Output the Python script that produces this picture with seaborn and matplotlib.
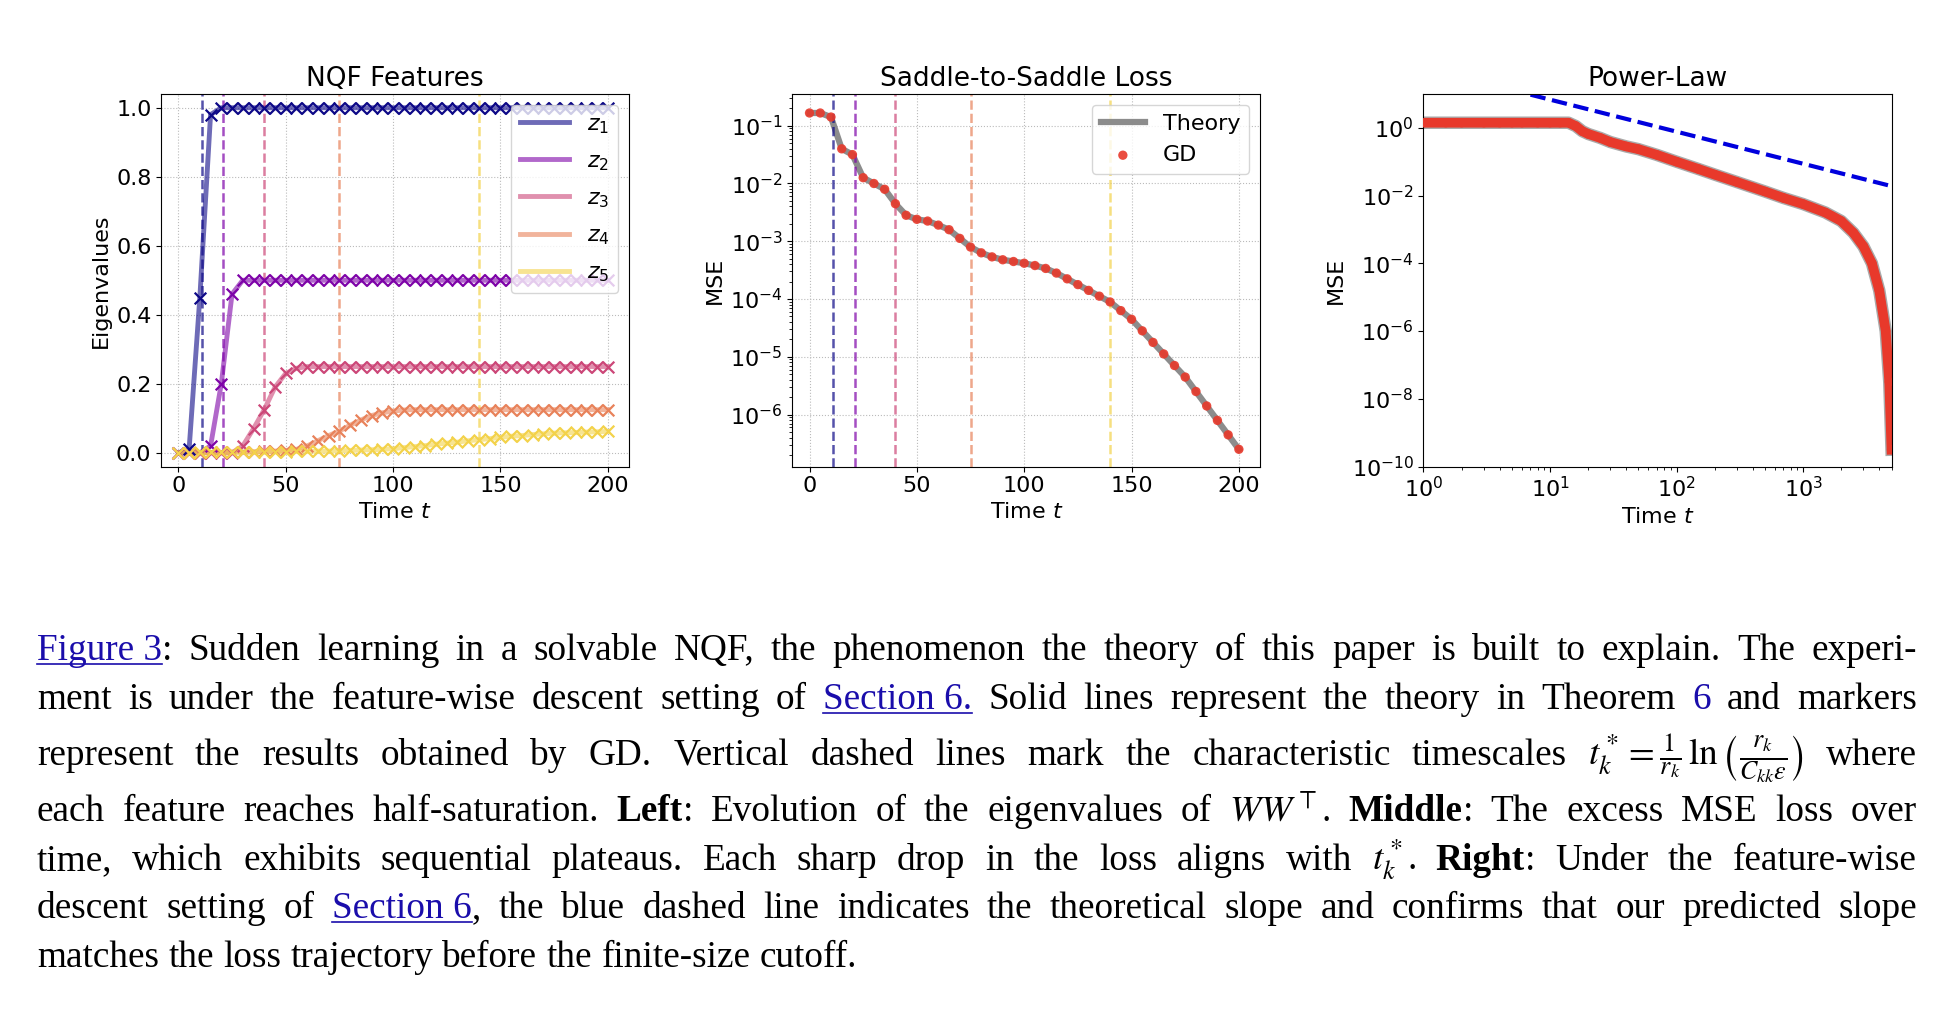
import re
import numpy as np
import pandas as pd
import matplotlib
matplotlib.use("Agg")
import matplotlib.pyplot as plt
import seaborn as sns

# ---- data ----
t_grid = list(range(0, 201, 5))
z1 = [0.0, 0.01, 0.45, 0.98] + [1.0] * 37
z2 = [0.0, 0.0, 0.0, 0.02, 0.2, 0.46] + [0.5] * 35
z3 = [0.0] * 6 + [0.02, 0.07, 0.125, 0.19, 0.23, 0.245] + [0.25] * 29
z4 = [0.0, 0.0, 0.0, 0.001, 0.001, 0.002, 0.002, 0.003, 0.004, 0.005, 0.007,
      0.01, 0.02, 0.035, 0.05, 0.063, 0.08, 0.095, 0.108, 0.116, 0.121, 0.124] + [0.125] * 19
z5 = [0.0, 0.0, 0.001, 0.001, 0.001, 0.002, 0.002, 0.002, 0.003, 0.003, 0.003,
      0.004, 0.004, 0.005, 0.005, 0.006, 0.007, 0.008, 0.009, 0.010, 0.012,
      0.015, 0.018, 0.021, 0.025, 0.028, 0.031, 0.035, 0.038, 0.041, 0.045,
      0.048, 0.050, 0.053, 0.055, 0.057, 0.058, 0.059, 0.060, 0.061, 0.062]
t_star = [11, 21, 40, 75, 140]
feat_colors = ["#0d0887", "#7e03a8", "#cc4778", "#e8825a", "#f3d24a"]

mse_log = [-0.78, -0.78, -0.85, -1.4, -1.5, -1.9, -2.0, -2.1, -2.35, -2.55, -2.62,
           -2.65, -2.72, -2.8, -2.95, -3.1, -3.2, -3.27, -3.32, -3.35, -3.38, -3.42,
           -3.47, -3.55, -3.65, -3.75, -3.85, -3.95, -4.05, -4.2, -4.35, -4.55,
           -4.75, -4.95, -5.15, -5.35, -5.6, -5.85, -6.1, -6.35, -6.6]

pl_t = [1, 1.5, 2, 3, 4, 5, 6, 8, 10, 12, 14, 16, 18, 20, 25, 30, 40, 50, 70, 100,
        150, 200, 300, 500, 700, 1000, 1500, 2000, 2500, 3000, 3500, 4000, 4500, 4800, 5000]
pl_log = [0.15] * 11 + [0.05, -0.1, -0.18, -0.3, -0.42, -0.55, -0.63, -0.8, -1.0,
          -1.22, -1.38, -1.6, -1.88, -2.07, -2.25, -2.5, -2.75, -3.1, -3.5, -4.0,
          -4.8, -6.0, -7.5, -9.5]
slope_t = [1, 5000]
slope_y = [60, 0.019]

W, H = 1942, 1010
fig = plt.figure(figsize=(W / 100, H / 100), dpi=100)
bot, hgt = 0.538, 0.369
ax1 = fig.add_axes([0.083, bot, 0.241, hgt])
ax2 = fig.add_axes([0.408, bot, 0.241, hgt])
ax3 = fig.add_axes([0.733, bot, 0.241, hgt])
TS = 16
LS = 16

# ---- left ----
for i, (z, c) in enumerate(zip([z1, z2, z3, z4, z5], feat_colors)):
    d = pd.DataFrame({"t": t_grid, "z": z})
    sns.lineplot(data=d, x="t", y="z", ax=ax1, color=c, lw=3.5, alpha=0.6, label=f"$z_{i+1}$")
    sns.scatterplot(data=d, x="t", y="z", ax=ax1, color=c, marker="x", s=70, linewidth=1.6, zorder=3)
    ax1.axvline(t_star[i], color=c, ls="--", lw=1.8, alpha=0.7)
ax1.set_xlim(-8, 210)
ax1.set_ylim(-0.04, 1.04)
ax1.set_title("NQF Features", fontsize=19)
ax1.set_xlabel("Time $t$", fontsize=LS)
ax1.set_ylabel("Eigenvalues", fontsize=LS)
ax1.grid(ls=":", color="#bbbbbb")
ax1.legend(loc="upper right", fontsize=16, handlelength=2.2, labelspacing=0.7)

# ---- middle ----
dm = pd.DataFrame({"t": t_grid, "mse": np.power(10.0, mse_log)})
sns.lineplot(data=dm, x="t", y="mse", ax=ax2, color="gray", lw=4.5, alpha=0.9, label="Theory")
sns.scatterplot(data=dm, x="t", y="mse", ax=ax2, color="#e8392b", s=45, edgecolor="none",
                alpha=0.9, label="GD", zorder=3)
for ts, c in zip(t_star, feat_colors):
    ax2.axvline(ts, color=c, ls="--", lw=1.8, alpha=0.7)
ax2.set_yscale("log")
ax2.set_xlim(-8, 210)
ax2.set_ylim(10 ** -6.9, 10 ** -0.45)
ax2.set_title("Saddle-to-Saddle Loss", fontsize=19)
ax2.set_xlabel("Time $t$", fontsize=LS)
ax2.set_ylabel("MSE", fontsize=LS)
ax2.grid(ls=":", color="#bbbbbb")
ax2.legend(loc="upper right", fontsize=16)

# ---- right ----
dp = pd.DataFrame({"t": pl_t, "mse": np.power(10.0, pl_log)})
sns.lineplot(data=dp, x="t", y="mse", ax=ax3, color="#aaaaaa", lw=9)
sns.lineplot(data=dp, x="t", y="mse", ax=ax3, color="#e8392b", lw=7)
sns.scatterplot(data=dp, x="t", y="mse", ax=ax3, color="#e8392b", s=45, edgecolor="none", zorder=3)
ax3.plot(slope_t, slope_y, color="#0000dd", ls="--", lw=3)
ax3.set_xscale("log")
ax3.set_yscale("log")
ax3.set_xlim(1, 5000)
ax3.set_ylim(1e-10, 10)
ax3.set_yticks([1e0, 1e-2, 1e-4, 1e-6, 1e-8, 1e-10])
ax3.set_title("Power-Law", fontsize=19)
ax3.set_xlabel("Time $t$", fontsize=LS)
ax3.set_ylabel("MSE", fontsize=LS)

for ax in (ax1, ax2, ax3):
    ax.tick_params(labelsize=TS)

# ---- caption ----
plt.rcParams["mathtext.fontset"] = "stix"
lines = [
    r"<L|Figure~3>: Sudden learning in a solvable NQF, the phenomenon the theory of this paper is built to explain. The experi-",
    r"ment is under the feature-wise descent setting of <L|Section~6.> Solid lines represent the theory in Theorem <C|6> and markers",
    r"represent the results obtained by GD. Vertical dashed lines mark the characteristic timescales $t_k^*=\frac{1}{r_k}\,\ln\left(\frac{r_k}{C_{kk}\epsilon}\right)$ where",
    r"each feature reaches half-saturation. <B|Left>: Evolution of the eigenvalues of $WW^{\top}$. <B|Middle>: The excess MSE loss over",
    r"time, which exhibits sequential plateaus. Each sharp drop in the loss aligns with $t_k^*$. <B|Right>: Under the feature-wise",
    r"descent setting of <L|Section~6>, the blue dashed line indicates the theoretical slope and confirms that our predicted slope",
    r"matches the loss trajectory before the finite-size cutoff.",
]
baselines = [660, 709, 765, 821, 870, 918, 967]
x0, x1 = 37, 1917
FS = 26.8
renderer = fig.canvas.get_renderer()
for li, (line, yb) in enumerate(zip(lines, baselines)):
    words = []
    for w in line.split(" "):
        parts = []
        for m in re.finditer(r"<([LBC])\|([^>]*)>|([^<]+)", w):
            if m.group(1):
                parts.append((m.group(2).replace("~", " "), m.group(1)))
            else:
                parts.append((m.group(3), "N"))
        words.append(parts)
    items = []
    for parts in words:
        wtexts = []
        for txt, st in parts:
            t = fig.text(0, 1 - yb / H, txt, fontsize=FS, family="Liberation Serif",
                         va="baseline", ha="left",
                         fontweight="bold" if st == "B" else "normal",
                         color="#1a0dab" if st in "LC" else "black")
            wtexts.append((t, st))
        items.append(wtexts)
    widths = [[t.get_window_extent(renderer).width for t, _ in wt] for wt in items]
    total = sum(sum(w) for w in widths)
    space = FS * 0.25 * 100 / 72
    if li < len(lines) - 1 and len(items) > 1:
        space = (x1 - x0 - total) / (len(items) - 1)
    x = x0
    for wt, ws in zip(items, widths):
        for (t, st), w in zip(wt, ws):
            t.set_x(x / W)
            if st == "L":
                fig.add_artist(plt.Line2D([x / W, (x + w) / W], [1 - (yb + 4) / H] * 2,
                                          color="#1a0dab", lw=1.2))
            x += w
        x += space

fig.savefig("out.png", dpi=100, facecolor="white")
